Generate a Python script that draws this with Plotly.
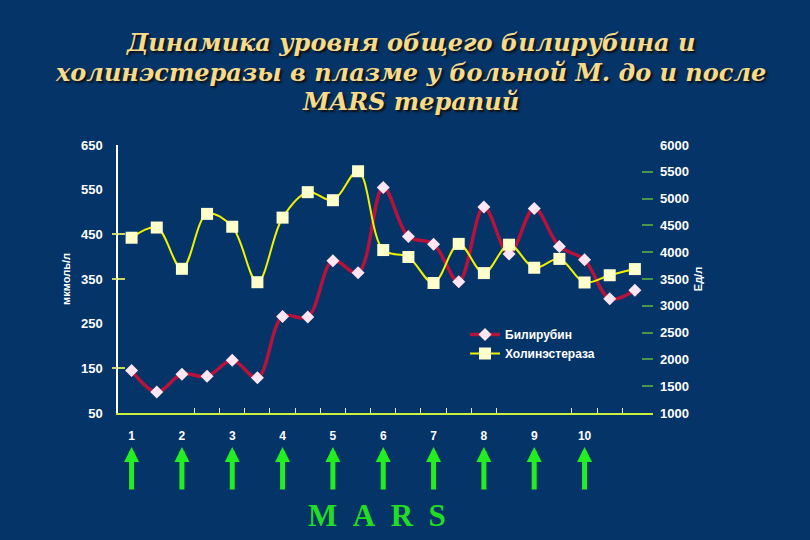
import plotly.graph_objects as go

# ---------------- data ----------------
points = list(range(21))
bilirubin = [145, 97, 137, 132, 168, 129, 266, 265, 391, 364, 555,
             445, 428, 344, 511, 406, 508, 423, 393, 306, 325]
cholinesterase = [4270, 4460, 3690, 4715, 4475, 3440, 4645, 5120, 4970, 5510, 4040,
                  3910, 3425, 4155, 3610, 4140, 3710, 3875, 3435, 3570, 3685]
mars_points = [0, 2, 4, 6, 8, 10, 12, 14, 16, 18]
mars_labels = ["1", "2", "3", "4", "5", "6", "7", "8", "9", "10"]
x_tick_marks = [2.5, 3.5, 4.5, 5.5, 6.5, 7.5, 8.5, 9.5, 10.5, 11.5, 12.5, 13.5, 14.5,
                17.5, 18.5, 19.5]
left_ticks = [50, 150, 250, 350, 450, 550, 650]
left_tick_marks = [150, 350, 450]
right_ticks = [1000, 1500, 2000, 2500, 3000, 3500, 4000, 4500, 5000, 5500, 6000]
right_tick_marks = [1500, 2000, 2500, 3000, 3500, 4000, 4500, 5000, 5500]
title_lines = ["Динамика уровня общего билирубина и",
               "холинэстеразы в плазме у больной М. до и после",
               "MARS терапий"]
series_names = ["Билирубин", "Холинэстераза"]
left_title = "мкмоль/л"
right_title = "Ед/л"
mars_text = "M\u2002A\u2002R\u2002S"

# ---------------- style ----------------
BG = "#043468"
SANS = "Liberation Sans"
W, H = 810, 540
ML, MR, MT, MB = 118, 157, 145, 127
PH = H - MT - MB
PW = W - ML - MR


def py2paper(py):
    return (H - MB - py) / PH


def px2paper(px):
    return (px - ML) / PW


tickfont = dict(family=SANS, size=13, color="white", weight="bold")

fig = go.Figure()
fig.add_trace(go.Scatter(
    x=points, y=bilirubin, name=series_names[0], mode="lines+markers",
    line=dict(color="#B5123C", width=3.5, shape="spline", smoothing=1),
    marker=dict(symbol="diamond", size=10, color="#FFE6F2"),
    yaxis="y"))
fig.add_trace(go.Scatter(
    x=points, y=cholinesterase, name=series_names[1], mode="lines+markers",
    line=dict(color="#F0F200", width=2, shape="spline", smoothing=1),
    marker=dict(symbol="square", size=12, color="#FFFFCC"),
    yaxis="y2"))
# empty helper traces so the tick-only overlay axes are always rendered
for ax_name in ["y3", "y4", "y5"]:
    fig.add_trace(go.Scatter(x=[], y=[], yaxis=ax_name, showlegend=False,
                             hoverinfo="skip", mode="markers"))

annotations = []
title_y = [43, 72, 101]
for txt, yy in zip(title_lines, title_y):
    annotations.append(dict(
        text=txt, x=px2paper(410), y=py2paper(yy), xref="paper", yref="paper",
        xanchor="center", yanchor="middle", showarrow=False,
        font=dict(family="DejaVu Serif", size=24, color="#F7DA8A",
                  weight="bold", style="italic", shadow="2px 2px 2px #101010")))

for p in mars_points:
    annotations.append(dict(
        x=p, y=py2paper(447), xref="x", yref="paper", text="",
        showarrow=True, ax=0, ay=44, arrowhead=2, arrowsize=0.6,
        arrowwidth=5, arrowcolor="#22EE22"))

annotations.append(dict(
    text=mars_text, x=px2paper(377), y=py2paper(515), xref="paper", yref="paper",
    xanchor="center", yanchor="middle", showarrow=False,
    font=dict(family="Liberation Serif", size=31, color="#22DD22", weight="bold")))

fig.update_layout(
    width=W, height=H,
    margin=dict(l=ML, r=MR, t=MT, b=MB, pad=0),
    paper_bgcolor=BG, plot_bgcolor=BG,
    font=dict(family=SANS, color="white"),
    showlegend=True,
    legend=dict(x=px2paper(465), y=py2paper(320), xanchor="left", yanchor="top",
                bgcolor="rgba(0,0,0,0)", font=dict(family=SANS, size=12, color="white", weight="bold")),
    xaxis=dict(range=[-0.54, 20.72], tickmode="array", tickvals=mars_points, ticktext=mars_labels,
               showline=True, linecolor="#C8F03C", linewidth=2,
               ticks="outside", ticklen=11, tickcolor="rgba(0,0,0,0)",
               tickfont=dict(family=SANS, size=12, color="white", weight="bold"),
               showgrid=False, zeroline=False,
               minor=dict(tickmode="array", tickvals=x_tick_marks, ticks="inside",
                          ticklen=5, tickcolor="#E8E8E8", tickwidth=1)),
    yaxis=dict(range=[50, 650], tickmode="array", tickvals=left_ticks,
               showline=True, linecolor="white", linewidth=1.5, ticks="",
               showgrid=False, zeroline=False, tickfont=tickfont, ticklabelstandoff=11,
               title=dict(text=left_title, standoff=8,
                          font=dict(family=SANS, size=11, color="white", weight="bold"))),
    yaxis2=dict(range=[1000, 6000], overlaying="y", side="right", anchor="x",
                tickmode="array", tickvals=right_ticks, ticks="", showline=False,
                showgrid=False, zeroline=False, tickfont=tickfont, ticklabelstandoff=6,
                title=dict(text=right_title, standoff=6,
                           font=dict(family=SANS, size=11, color="white", weight="bold"))),
    yaxis3=dict(range=[1000, 6000], overlaying="y", side="right", anchor="x",
                tickmode="array", tickvals=right_tick_marks, ticks="inside", ticklen=11,
                tickwidth=2, tickcolor="#4A964A", showticklabels=False, showline=False,
                showgrid=False, zeroline=False),
    yaxis4=dict(range=[50, 650], overlaying="y", side="left", anchor="x",
                tickmode="array", tickvals=left_tick_marks, ticks="inside", ticklen=7,
                tickwidth=1.5, tickcolor="#C8D860", showticklabels=False, showline=False,
                showgrid=False, zeroline=False),
    yaxis5=dict(range=[50, 650], overlaying="y", side="left", anchor="x",
                tickmode="array", tickvals=left_tick_marks, ticks="outside", ticklen=5,
                tickwidth=1.5, tickcolor="#C8D860", showticklabels=False, showline=False,
                showgrid=False, zeroline=False),
    annotations=annotations,
)

fig.write_html("out.html", config={"displayModeBar": False},
               post_script="document.body.style.margin='0';document.body.style.overflow='hidden';")
